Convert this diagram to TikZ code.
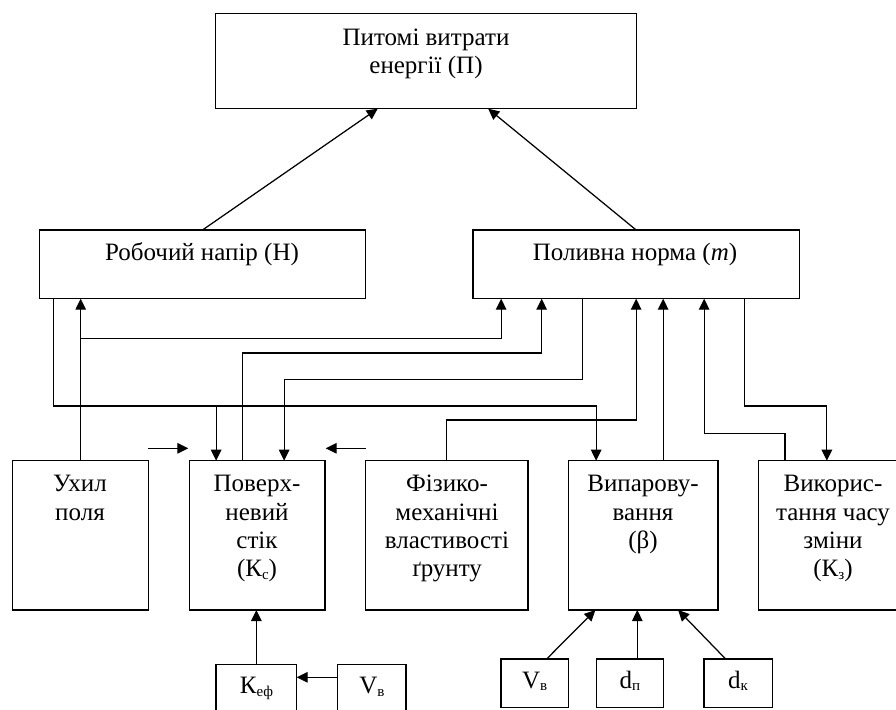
\documentclass[tikz,border=0pt]{standalone}
\usepackage{fontspec}
\setmainfont{Liberation Serif}
\usetikzlibrary{arrows.meta,calc}
\newcommand\myts{\rule{0pt}{19pt}}
\newcommand\sbs[1]{\raisebox{-0.1em}{\fontsize{15pt}{15pt}\selectfont #1}}
\begin{document}
\begin{tikzpicture}[x=1pt,y=-1pt,
 box/.style={draw, line width=1.25pt, inner sep=0, outer sep=0, anchor=north west},
 lbl/.style={inner sep=0, outer sep=0, align=center, anchor=north, font=\fontsize{25pt}{28.3pt}\selectfont},
 con/.style={line width=1.25pt},
 arr/.style={con, -{Triangle[length=11pt,width=10.5pt]}}]
\useasboundingbox (0,0) rectangle (896,709);
\clip (0,0) rectangle (896,709);
% boxes
\node[box, minimum width=421pt, minimum height=95pt] (P) at (215.7,13.7) {};
\node[box, minimum width=326.4pt, minimum height=68.7pt] (H) at (39.3,230) {};
\node[box, minimum width=326.3pt, minimum height=68.7pt] (M) at (473,230) {};
\node[box, minimum width=136pt, minimum height=149.3pt] (U) at (12.7,460.7) {};
\node[box, minimum width=135.7pt, minimum height=149.3pt] (S) at (189.3,460.7) {};
\node[box, minimum width=162.3pt, minimum height=149.3pt] (F) at (365.7,460.7) {};
\node[box, minimum width=149.7pt, minimum height=149.3pt] (B) at (568.3,460.7) {};
\node[box, minimum width=148.3pt, minimum height=149.3pt] (Z) at (758.7,460.7) {};
\node[box, minimum width=80.7pt, minimum height=60pt] (K) at (216,664.3) {};
\node[box, minimum width=68.3pt, minimum height=60pt] (V1) at (337.7,664.3) {};
\node[box, minimum width=67.3pt, minimum height=48.3pt] (V2) at (501,659) {};
\node[box, minimum width=67pt, minimum height=48.3pt] (DP) at (596.3,659) {};
\node[box, minimum width=68.3pt, minimum height=48.3pt] (DK) at (704,659) {};
% labels
\node[lbl] (Pt) at (426,26) {\myts Питомі витрати\\енергії (П)};
\node[lbl] (Ht) at (202,241) {\myts Робочий напір (Н)};
\node[lbl] (Mt) at (635,241) {\myts Поливна норма (\textit{m})};
\node[lbl] (Ut) at (80,472.7) {\myts Ухил\\поля};
\node[lbl] (St) at (257,472.7) {\myts Поверх-\\невий\\стік\\(К\sbs{с})};
\node[lbl] (Ft) at (447,472.7) {\myts Фізико-\\механічні\\властивості\\ґрунту};
\node[lbl] (Bt) at (643,472.7) {\myts Випарову-\\вання\\(β)};
\node[lbl] (Zt) at (833,472.7) {\myts Викорис-\\тання часу\\зміни\\(К\sbs{з})};
\node[lbl] (Kt) at (256.5,674.5) {\myts К\sbs{еф}};
\node[lbl] (V1t) at (372,674.5) {\myts V\sbs{в}};
\node[lbl] (V2t) at (534.7,669) {\myts V\sbs{в}};
\node[lbl] (DPt) at (629.8,669) {\myts d\sbs{п}};
\node[lbl] (DKt) at (738,669) {\myts d\sbs{к}};
% connectors to top
\draw[arr] (H.north) -- ([xshift=-48.5pt]P.south);
\draw[arr] (M.north) -- ([xshift=62pt]P.south);
% Ukhyl
\draw[arr] (U.north) -- (U.north |- H.south);
\draw[arr] (U.north |- 0,338.7) -| ([xshift=-135pt]M.south);
% H -> S, B
\coordinate (hl) at ($(H.south west)+(14,0)$);
\draw[arr] (hl) -- (hl |- 0,406) -| ([xshift=-47pt]B.north);
\draw[arr] ([xshift=-41pt]S.north |- 0,406) -- ([xshift=-41pt]S.north);
% S -> M
\draw[arr] ([xshift=-15pt]S.north) -- ++(0,-107.7) -| ([xshift=-94.5pt]M.south);
% M -> S
\draw[arr] ([xshift=-54pt]M.south) -- ++(0,81) -| ([xshift=27pt]S.north);
% F -> M
\draw[arr] (F.north) -- ++(0,-40.7) -| (M.south);
% B -> M
\draw[arr] ([xshift=20pt]B.north) -- ([xshift=20pt]B.north |- M.south);
% Z -> M
\draw[arr] ([xshift=26.3pt]Z.north west) -- ++(0,-27) -| ([xshift=68pt]M.south);
% M -> Z
\draw[arr] ([xshift=108pt]M.south) -- ++(0,107.3) -| ([xshift=-6pt]Z.north);
% small arrows
\coordinate (a1) at (148.3,448.3);
\coordinate (a1e) at (188.3,448.3);
\coordinate (a2) at (365.7,448.3);
\coordinate (a2e) at (325.7,448.3);
\draw[arr] (a1) -- (a1e);
\draw[arr] (a2) -- (a2e);
% bottom
\draw[arr] (K.north) -- (K.north |- S.south);
\draw[arr] ([yshift=-13pt]V1.north west) -- ([yshift=-13pt]K.north east);
\draw[arr] ([xshift=12pt]V2.north) -- ([xshift=-47.8pt]B.south);
\draw[arr] ([xshift=7.5pt]DP.north) -- ([xshift=7.5pt]DP.north |- B.south);
\draw[arr] ([xshift=-12.5pt]DK.north) -- ([xshift=35pt]B.south);
\end{tikzpicture}
\end{document}
